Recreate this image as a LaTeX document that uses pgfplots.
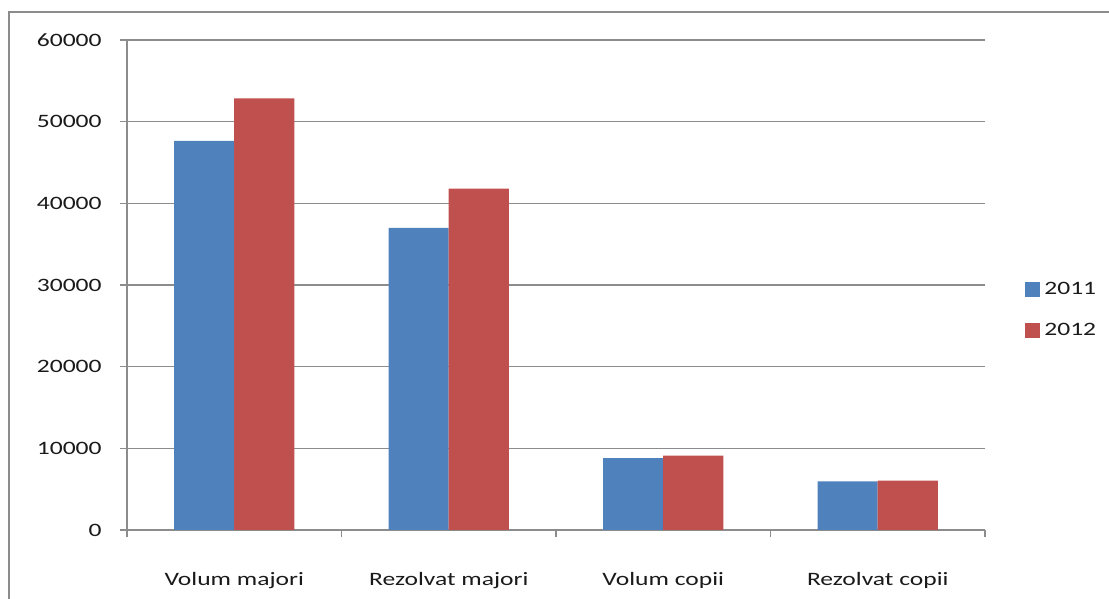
\documentclass[border=0pt]{standalone}
\usepackage{fontspec}
\setmainfont{Carlito}[FakeStretch=1.35]
\usepackage{pgfplots}
\pgfplotsset{compat=1.18}
\definecolor{barblue}{HTML}{4F81BD}
\definecolor{barred}{HTML}{C0504D}
\definecolor{gridgray}{HTML}{8C8C8C}
\definecolor{txt}{HTML}{1A1A1A}
\begin{document}
\begin{tikzpicture}
\useasboundingbox (0bp,0bp) rectangle (554.5bp,299.5bp);
\draw[gridgray, line width=1bp] (4.5bp,-5bp) -- (4.5bp,293.5bp) -- (560bp,293.5bp);
\begin{axis}[
  at={(63.5bp,34.5bp)}, anchor=south west,
  scale only axis, width=429bp, height=245bp,
  font=\fontsize{9.5}{11}\selectfont,
  text=txt,
  ybar=0pt, bar width=30bp,
  xmin=-0.5, xmax=3.5, ymin=0, ymax=60000,
  ytick={0,10000,20000,30000,40000,50000,60000},
  scaled y ticks=false,
  yticklabel style={/pgf/number format/fixed, /pgf/number format/1000 sep={}, /pgf/number format/assume math mode=true, anchor=east, inner sep=0pt, xshift=-9bp},
  xtick={0,1,2,3},
  xticklabels={Volum majori, Rezolvat majori, Volum copii, Rezolvat copii},
  xticklabel style={anchor=base, inner sep=0pt, yshift=-24bp},
  minor xtick={-0.5,0.5,1.5,2.5,3.5},
  major x tick style={draw=none},
  tick align=outside,
  major tick length=3.5bp, minor tick length=3.5bp,
  axis x line*=bottom, axis y line*=left,
  xtick pos=bottom, ytick pos=left,
  axis line style={gridgray, line width=0.8bp, line cap=butt},
  tick style={gridgray, line width=0.8bp},
  ymajorgrids, grid style={gridgray, line width=0.8bp, line cap=butt},
  legend style={draw=none, fill=none, at={(1.0466,0.449)}, anchor=west, inner sep=0pt, row sep=9bp, font=\fontsize{9.5}{11}\selectfont, cells={anchor=west}},
  legend image code/.code={\fill[#1] (0bp,-3.75bp) rectangle (7.5bp,3.75bp);},
]
\addplot[fill=barblue, draw=none] coordinates {(0,47650) (1,37000) (2,8800) (3,5950)};
\addplot[fill=barred, draw=none] coordinates {(0,52850) (1,41800) (2,9100) (3,6050)};
\legend{2011,2012}
\end{axis}
\end{tikzpicture}
\end{document}
